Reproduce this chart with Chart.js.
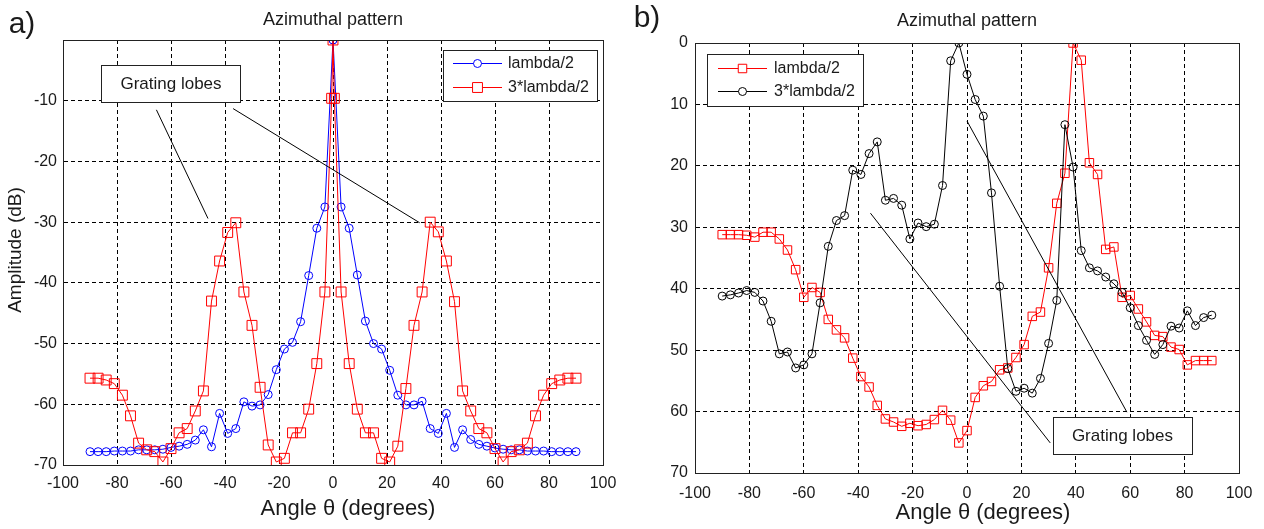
<!DOCTYPE html>
<html>
<head>
<meta charset="utf-8">
<script src="https://cdn.jsdelivr.net/npm/chart.js@4.4.1/dist/chart.umd.min.js"></script>
<style>
  html, body { margin: 0; padding: 0; background: #fff; }
  #wrapA { position: absolute; left: 0; top: 0; width: 630px; height: 529px; }
  #wrapB { position: absolute; left: 630px; top: 0; width: 634px; height: 529px; }
</style>
</head>
<body>
<div id="wrapA"><canvas id="chartA"></canvas></div>
<div id="wrapB"><canvas id="chartB"></canvas></div>
<script>
// panel a) element spacing, dB (0 = peak)
const anglesA = [-90,-87,-84,-81,-78,-75,-72,-69,-66,-63,-60,-57,-54,-51,-48,-45,-42,-39,-36,-33,-30,-27,-24,-21,-18,-15,-12,-9,-6,-3,0,3,6,9,12,15,18,21,24,27,30,33,36,39,42,45,48,51,54,57,60,63,66,69,72,75,78,81,84,87,90];
const blueA = [-67.8,-67.8,-67.8,-67.7,-67.7,-67.7,-67.5,-67.5,-67.5,-67.4,
  -67.1,-66.9,-66.6,-65.9,-64.2,-67.0,-61.5,-64.8,-64.0,-59.6,
  -60.3,-60.1,-58.4,-54.3,-50.9,-49.8,-46.4,-38.8,-31.0,-27.5,
  0,
  -27.5,-31.0,-38.7,-46.3,-50.0,-50.9,-54.4,-58.5,-60.1,-60.1,
  -59.5,-64.0,-64.8,-61.5,-67.1,-64.2,-65.8,-66.6,-66.9,-67.2,
  -67.4,-67.5,-67.5,-67.7,-67.7,-67.7,-67.8,-67.8,-67.8,-67.8];
const anglesRedA = [-90,-87,-84,-81,-78,-75,-72,-69,-66,-63,-60,-57,-54,-51,-48,-45,-42,-39,-36,-33,-30,-27,-24,-21,-18,-15,-12,-9,-6,-3,-0.5,0,0.5,3,6,9,12,15,18,21,24,27,30,33,36,39,42,45,48,51,54,57,60,63,66,69,72,75,78,81,84,87,90];
const redA = [-55.7,-55.7,-56.0,-56.6,-58.5,-61.9,-66.4,-67.5,-67.8,-69.5,
  -67.3,-64.7,-64.0,-61.1,-57.8,-43.0,-36.4,-31.7,-30.1,-41.5,
  -47.0,-57.2,-66.7,-69.5,-68.9,-64.7,-64.7,-60.8,-53.3,-41.5,
  -9.6,0,-9.6,
  -41.5,-53.3,-60.8,-64.7,-64.7,-68.9,-69.5,-66.9,-57.4,-47.0,
  -41.5,-30.0,-31.6,-36.4,-43.1,-57.8,-61.1,-64.0,-64.7,-67.3,
  -69.5,-67.8,-67.5,-66.4,-61.9,-58.5,-56.6,-56.0,-55.7,-55.7];

// panel b) attenuation, dB (axis reversed)
const anglesB = [-90,-87,-84,-81,-78,-75,-72,-69,-66,-63,-60,-57,-54,-51,-48,-45,-42,-39,-36,-33,-30,-27,-24,-21,-18,-15,-12,-9,-6,-3,0,3,6,9,12,15,18,21,24,27,30,33,36,39,42,45,48,51,54,57,60,63,66,69,72,75,78,81,84,87,90];
const redB = [31.2,31.2,31.2,31.3,31.6,30.8,30.8,31.9,33.7,36.9,
  41.4,39.8,40.6,45.0,46.7,48.0,51.3,54.3,56.0,59.0,
  61.2,61.7,62.4,61.9,62.3,62.1,61.3,59.8,61.4,65.1,
  63.1,
  57.7,55.8,55.1,53.2,52.9,51.2,49.1,44.5,43.8,36.6,
  26.1,21.2,0,2.8,19.5,21.4,33.6,33.2,41.4,41.1,
  43.3,45.4,47.6,47.8,49.5,49.9,52.4,51.7,51.7,51.7];
const blackB = [41.2,41.0,40.7,40.3,40.6,42.0,45.3,50.6,50.3,52.9,
  52.4,50.6,42.3,33.1,28.9,28.1,20.7,21.4,18.0,16.1,
  25.6,25.3,26.4,31.9,29.3,29.9,29.5,23.2,2.9,0,
  5.1,
  9.2,11.9,24.4,39.6,53.0,56.7,56.2,57.0,54.6,48.9,
  41.9,13.3,20.2,33.8,36.6,37.1,38.1,39.2,40.6,43.1,
  46.0,48.4,50.7,49.1,46.1,46.4,43.6,46.0,44.7,44.3];

const FONT = "'Liberation Sans', Arial, sans-serif";
const TXT = '#1a1a1a';

function pts(xs, ys) { return xs.map((x, i) => ({ x: x, y: ys[i] })); }

function series(label, xs, ys, color, style, r, order) {
  return {
    label: label, data: pts(xs, ys), borderColor: color, borderWidth: 1,
    pointStyle: style, pointRadius: r, pointHoverRadius: r,
    pointBorderColor: color, pointBackgroundColor: 'rgba(0,0,0,0)', pointBorderWidth: 1,
    tension: 0, fill: false, order: order
  };
}

// frame, notes, legend and outside labels
const overlay = {
  id: 'overlay',
  afterDraw(chart, args, o) {
    const ctx = chart.ctx, a = chart.chartArea;
    const xs = chart.scales.x, ys = chart.scales.y;
    ctx.save();
    ctx.setLineDash([]);

    ctx.strokeStyle = '#222';
    ctx.lineWidth = 1;
    ctx.strokeRect(a.left + 0.5, a.top + 0.5, a.right - a.left, a.bottom - a.top);

    // "Grating lobes" pointers
    ctx.strokeStyle = '#000';
    o.pointers.forEach(p => {
      ctx.beginPath();
      ctx.moveTo(xs.getPixelForValue(p[0]), ys.getPixelForValue(p[1]));
      ctx.lineTo(xs.getPixelForValue(p[2]), ys.getPixelForValue(p[3]));
      ctx.stroke();
    });
    const bx1 = xs.getPixelForValue(o.note[0]), by1 = ys.getPixelForValue(o.note[1]);
    const bx2 = xs.getPixelForValue(o.note[2]), by2 = ys.getPixelForValue(o.note[3]);
    ctx.fillStyle = '#fff';
    ctx.fillRect(bx1, by1, bx2 - bx1, by2 - by1);
    ctx.strokeStyle = '#222';
    ctx.strokeRect(Math.round(bx1) + 0.5, Math.round(by1) + 0.5, Math.round(bx2 - bx1), Math.round(by2 - by1));
    ctx.fillStyle = TXT;
    ctx.font = '17px ' + FONT;
    ctx.textAlign = 'center';
    ctx.textBaseline = 'middle';
    ctx.fillText('Grating lobes', (bx1 + bx2) / 2, (by1 + by2) / 2 + 1);

    // legend
    const L = o.legend;
    ctx.fillStyle = '#fff';
    ctx.fillRect(L.x, L.y, L.w, L.h);
    ctx.strokeStyle = '#222';
    ctx.strokeRect(L.x + 0.5, L.y + 0.5, L.w, L.h);
    chart.data.datasets.forEach((ds, i) => {
      const y = L.rows[i];
      ctx.strokeStyle = ds.borderColor;
      ctx.lineWidth = 1;
      ctx.beginPath();
      ctx.moveTo(L.x1, y + 0.5);
      ctx.lineTo(L.x2, y + 0.5);
      ctx.stroke();
      ctx.fillStyle = '#fff';
      Chart.helpers.drawPoint(ctx, { pointStyle: ds.pointStyle, radius: ds.pointRadius, rotation: 0, borderWidth: 1 }, (L.x1 + L.x2) / 2, y + 0.5);
      ctx.fillStyle = TXT;
      ctx.font = '16px ' + FONT;
      ctx.textAlign = 'left';
      ctx.textBaseline = 'middle';
      ctx.fillText(ds.label, L.tx, y + 1);
    });

    // texts around the axes
    o.texts.forEach(t => {
      ctx.save();
      ctx.fillStyle = TXT;
      ctx.font = t.size + 'px ' + FONT;
      ctx.textAlign = 'center';
      ctx.textBaseline = 'middle';
      ctx.translate(t.x, t.y);
      if (t.rot) ctx.rotate(t.rot);
      ctx.fillText(t.text, 0, 0);
      ctx.restore();
    });
    ctx.restore();
  }
};

function axisX(height, pad) {
  return {
    type: 'linear', min: -100, max: 100,
    ticks: { stepSize: 20, padding: pad, color: TXT, font: { size: 16, family: FONT }, maxRotation: 0, autoSkip: false },
    grid: { color: '#000', lineWidth: 1, drawTicks: false, borderDash: [4, 3] },
    border: { display: true, color: '#222', width: 1, dash: [4, 3] },
    afterFit(s) { s.height = height; }
  };
}

new Chart(document.getElementById('chartA'), {
  type: 'line',
  data: {
    datasets: [
      series('lambda/2', anglesA, blueA, '#0000ff', 'circle', 4, 1),
      series('3*lambda/2', anglesRedA, redA, '#ff0000', 'rect', 7, 0)
    ]
  },
  options: {
    responsive: true, maintainAspectRatio: false, animation: false,
    layout: { padding: { left: 0, top: 40, right: 27, bottom: 0 } },
    scales: {
      x: axisX(64, 9),
      y: {
        type: 'linear', min: -70, max: 0,
        ticks: { stepSize: 10, padding: 6, color: TXT, font: { size: 16, family: FONT }, callback: v => (v === 0 ? '' : v) },
        grid: { color: '#000', lineWidth: 1, drawTicks: false, borderDash: [4, 3] },
        border: { display: true, color: '#222', width: 1, dash: [4, 3] },
        afterFit(s) { s.width = 63; }
      }
    },
    plugins: {
      legend: { display: false },
      tooltip: { enabled: false },
      overlay: {
        pointers: [[-65.4, -11.5, -46.3, -29.4], [-37, -11.3, 32.1, -30.1]],
        note: [-85.8, -4.1, -34.2, -10.2],
        legend: { x: 443, y: 50, w: 154, h: 51, x1: 453, x2: 502, tx: 508, rows: [63, 87] },
        texts: [
          { text: 'a)', x: 22, y: 25, size: 30 },
          { text: 'Azimuthal pattern', x: 333, y: 20, size: 18 },
          { text: 'Amplitude (dB)', x: 16, y: 250, size: 19, rot: -Math.PI / 2 },
          { text: 'Angle \u03b8 (degrees)', x: 348, y: 509, size: 22 }
        ]
      }
    }
  },
  plugins: [overlay]
});

new Chart(document.getElementById('chartB'), {
  type: 'line',
  data: {
    datasets: [
      series('lambda/2', anglesB, redB, '#ff0000', 'rect', 6, 1),
      series('3*lambda/2', anglesB, blackB, '#000000', 'circle', 4, 0)
    ]
  },
  options: {
    responsive: true, maintainAspectRatio: false, animation: false,
    layout: { padding: { left: 0, top: 43, right: 25, bottom: 0 } },
    scales: {
      x: axisX(56, 11),
      y: {
        type: 'linear', min: 0, max: 70, reverse: true,
        ticks: { stepSize: 10, padding: 7, color: TXT, font: { size: 16, family: FONT } },
        grid: { color: '#000', lineWidth: 1, drawTicks: false, borderDash: [4, 3] },
        border: { display: true, color: '#222', width: 1, dash: [4, 3] },
        afterFit(s) { s.width = 65; }
      }
    },
    plugins: {
      legend: { display: false },
      tooltip: { enabled: false },
      overlay: {
        pointers: [[-35.5, 27.7, 30.6, 65.1], [0, 12.7, 58.8, 60.1]],
        note: [31.6, 60.9, 82.7, 66.9],
        legend: { x: 77, y: 54, w: 156, h: 52, x1: 88, x2: 137, tx: 144, rows: [68, 91] },
        texts: [
          { text: 'b)', x: 17, y: 19, size: 30 },
          { text: 'Azimuthal pattern', x: 337, y: 21, size: 18 },
          { text: 'Angle \u03b8 (degrees)', x: 353, y: 513, size: 22 }
        ]
      }
    }
  },
  plugins: [overlay]
});
</script>
</body>
</html>
